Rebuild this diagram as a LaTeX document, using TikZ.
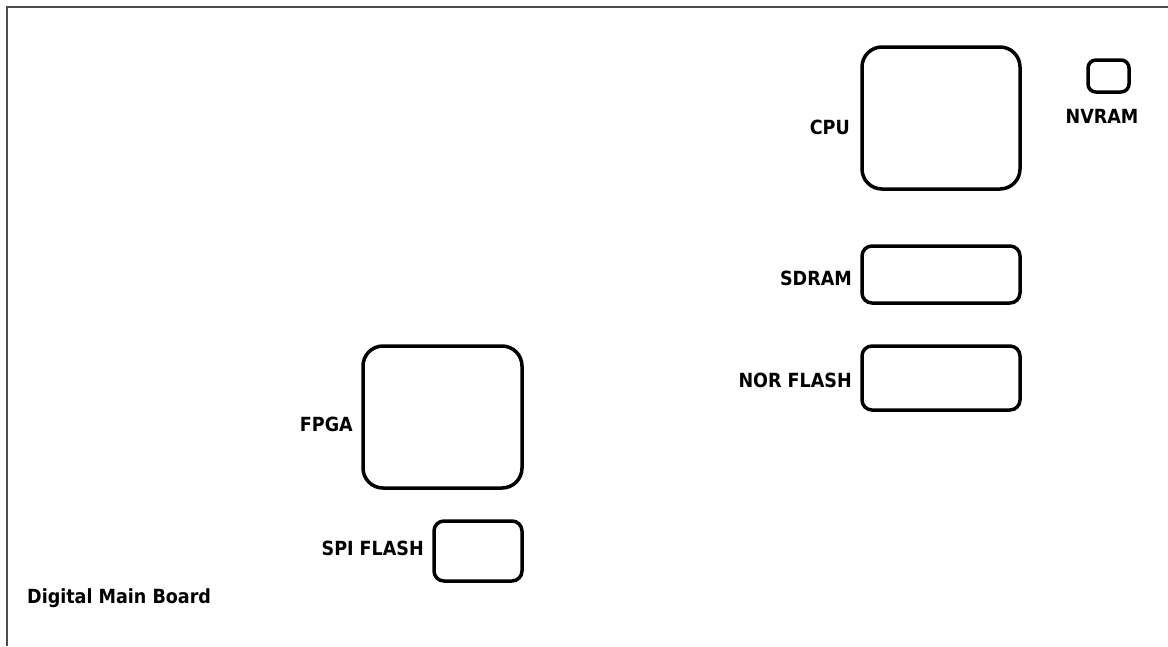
\documentclass[tikz,border=0pt]{standalone}
\usepackage{fontspec}
\setmainfont{DejaVu Sans Condensed}
\begin{document}
\begin{tikzpicture}[x=1pt,y=-1pt,
  chip/.style={draw=black,line width=3.5pt,rounded corners=20pt},
  smallchip/.style={draw=black,line width=3.5pt,rounded corners=8pt},
  lbl/.style={font=\fontsize{19.5}{22}\selectfont\bfseries,text=black,inner sep=0pt}]
\useasboundingbox (0,0) rectangle (1168,646);
\draw[draw=black!70,line width=2pt] (7,646) -- (7,7) -- (1168,7);
% chips
\draw[chip] (862,47) rectangle (1020,189);
\node (cpu) at (941,118) {};
\draw[smallchip] (1088,60) rectangle (1129,92);
\node (nvram) at (1108,76) {};
\draw[chip,rounded corners=10pt] (862,246) rectangle (1020,303);
\node (sdram) at (941,274) {};
\draw[chip,rounded corners=10pt] (862,346) rectangle (1020,410);
\node (nor) at (941,378) {};
\draw[chip] (363,346) rectangle (522,488);
\node (fpga) at (442,417) {};
\draw[chip,rounded corners=10pt] (434,521) rectangle (522,581);
\node (spi) at (478,551) {};
% labels
\node[lbl,anchor=east] (cpul) at (850,127) {CPU};
\node[lbl] (nvraml) at (1102,116) {NVRAM};
\node[lbl,anchor=east] (sdraml) at (852,278) {SDRAM};
\node[lbl,anchor=east] (norl) at (852,380) {NOR FLASH};
\node[lbl,anchor=east] (fpgal) at (353,424) {FPGA};
\node[lbl,anchor=east] (spil) at (424,548) {SPI FLASH};
\node[lbl,anchor=west] (board) at (27,598) {Digital Main Board};
\end{tikzpicture}
\end{document}
